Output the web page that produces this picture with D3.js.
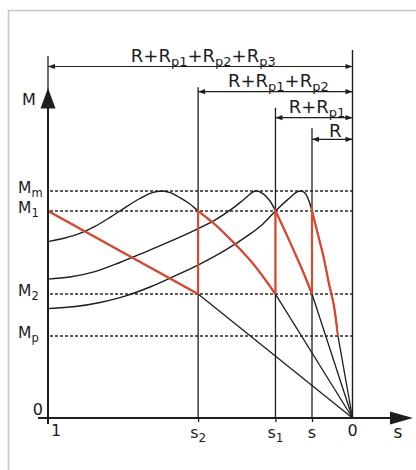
<!DOCTYPE html>
<html><head><meta charset="utf-8">
<script src="https://cdn.jsdelivr.net/npm/d3@7"></script>
<style>
body{margin:0;background:#fff}
svg{display:block}
text{font-family:"DejaVu Sans",Verdana,sans-serif;fill:#1c1c1c}
</style>
</head><body>
<svg id="chart" width="416" height="470"></svg>
<script>
// ---- data ----
const slipTicks = [1, 0.507, 0.253, 0.133, 0];
const slipLabels = ["1", "s_{2}", "s_{1}", "s", "0"];
const torqueLevels = [100, 91.2, 54.6, 36.1];
const torqueLabels = ["M_{m}", "M_{1}", "M_{2}", "M_{p}"];
const resistLabels = ["R+R_{p1}+R_{p2}+R_{p3}", "R+R_{p1}+R_{p2}", "R+R_{p1}", "R"];
const resistFrom = [1, 0.507, 0.253, 0.133];

// characteristic M(s) for each resistance (s, M in % of Mm)
const curveA = [[1, 91.2], [0.507, 54.6]];
const curveB = [[1, 77.7], [0.944, 79.3], [0.895, 81.3], [0.846, 84.4], [0.796, 88.4], [0.747, 92.7],
  [0.698, 96.7], [0.658, 99.3], [0.626, 100], [0.599, 99.3], [0.567, 97.1], [0.534, 94.3],
  [0.507, 91.2], [0.458, 86.0], [0.393, 77.6], [0.325, 67.7], [0.253, 54.6]];
const curveC = [[1, 61.2], [0.928, 62.1], [0.846, 64.5], [0.764, 68.5], [0.681, 73.1], [0.599, 77.8],
  [0.517, 82.8], [0.452, 87.2], [0.396, 92.1], [0.353, 96.7], [0.320, 100], [0.297, 99.1],
  [0.271, 95.6], [0.253, 91.2], [0.225, 83.3], [0.195, 74.4], [0.164, 65.0], [0.133, 54.6]];
const curveD = [[1, 48.2], [0.911, 49.1], [0.829, 50.9], [0.747, 53.7], [0.665, 57.7], [0.583, 62.6],
  [0.501, 67.8], [0.419, 73.8], [0.337, 81.0], [0.294, 85.5], [0.253, 91.2], [0.212, 96.3],
  [0.182, 99.6], [0.169, 100], [0.156, 99.1], [0.143, 95.6], [0.133, 91.2], [0.113, 80.6],
  [0.095, 70.9], [0.077, 59.0], [0.062, 50.2], [0.0476, 36.1]];
// starting path: slip range followed on each curve, and switching slips
const redRanges = [[1, 0.507], [0.507, 0.253], [0.253, 0.133], [0.133, 0.0476]];
const jumpSlips = [0.507, 0.253, 0.133];

// ---- layout ----
const dimRows = [66.5, 91.7, 117.7, 139.3];
const dimOvershoot = [10.5, 4.5, 10, 11];
const RED = "#e2452b", INK = "#1e1e1e";

const svg = d3.select("#chart");
const x = d3.scaleLinear().domain([1, 0]).range([48, 352.5]);
const y = d3.scaleLinear().domain([0, 100]).range([418, 191]);

function rich(t, str, subSize, subDy) {
  const parts = str.split(/_\{([^}]*)\}/);
  parts.forEach((p, i) => {
    if (!p) return;
    const ts = t.append("tspan").text(p);
    if (i % 2 === 1) ts.attr("font-size", subSize).attr("dy", subDy);
    else if (i > 0) ts.attr("dy", -subDy);
  });
}

// frame
svg.append("path").attr("d", "M8.5,470V10.5H416").attr("fill", "none")
  .attr("stroke", "#c8c8c8").attr("stroke-width", 1.6);

// dashed torque levels
svg.append("g").selectAll("line").data(torqueLevels).join("line")
  .attr("x1", x(1) + 2).attr("x2", x(0)).attr("y1", d => y(d)).attr("y2", d => y(d))
  .attr("stroke", "#2a2a2a").attr("stroke-width", 1.4).attr("stroke-dasharray", "3,2");

// vertical extension lines
svg.append("g").selectAll("line").data(resistFrom).join("line")
  .attr("x1", d => x(d)).attr("x2", d => x(d))
  .attr("y1", (d, i) => dimRows[i] - dimOvershoot[i])
  .attr("y2", (d, i) => i === 0 ? 100 : y(0))
  .attr("stroke", INK).attr("stroke-width", 1.3);
svg.append("line").attr("x1", x(0)).attr("x2", x(0)).attr("y1", 50).attr("y2", y(0))
  .attr("stroke", INK).attr("stroke-width", 1.4);

// dimension lines
const dims = svg.append("g");
resistFrom.forEach((s0, i) => {
  const x0 = x(s0), x1 = x(0), yy = dimRows[i];
  dims.append("line").attr("x1", x0).attr("x2", x1).attr("y1", yy).attr("y2", yy)
    .attr("stroke", INK).attr("stroke-width", 1.2);
  dims.append("path").attr("d", `M${x0},${yy}L${x0 + 7},${yy - 2.6}L${x0 + 7},${yy + 2.6}Z`).attr("fill", INK);
  dims.append("path").attr("d", `M${x1},${yy}L${x1 - 7},${yy - 2.6}L${x1 - 7},${yy + 2.6}Z`).attr("fill", INK);
  const t = dims.append("text").attr("x", (x0 + x1) / 2 + 3)
    .attr("y", i === 3 ? yy - 2.5 : yy - 4.5)
    .attr("text-anchor", "middle").attr("font-size", 18);
  rich(t, resistLabels[i], 13, 3.5);
});

// characteristics (black)
const line = d3.line().x(d => x(d[0])).y(d => y(d[1])).curve(d3.curveCatmullRom.alpha(0.5));
const straight = d3.line().x(d => x(d[0])).y(d => y(d[1]));
const curves = [curveA, curveB, curveC, curveD];
svg.append("g").selectAll("path").data(curves).join("path")
  .attr("d", line).attr("fill", "none").attr("stroke", INK).attr("stroke-width", 1.4);
// linear tails to the synchronous point
svg.append("g").selectAll("path").data(curves.map(c => [c[c.length - 1], [0, 0]])).join("path")
  .attr("d", straight).attr("fill", "none").attr("stroke", INK).attr("stroke-width", 1.3);

// starting trajectory (red), clipped from each full characteristic
const defs = svg.append("defs");
const redG = svg.append("g");
curves.forEach((c, i) => {
  const [a, b] = redRanges[i];
  defs.append("clipPath").attr("id", "rc" + i).append("rect")
    .attr("x", x(a) - 1).attr("width", x(b) - x(a) + 1.2).attr("y", 0).attr("height", 470);
  redG.append("path").attr("d", line(c)).attr("fill", "none")
    .attr("clip-path", `url(#rc${i})`)
    .attr("stroke", RED).attr("stroke-width", 2.2);
});
redG.selectAll("line").data(jumpSlips).join("line")
  .attr("x1", d => x(d)).attr("x2", d => x(d))
  .attr("y1", y(torqueLevels[2])).attr("y2", y(torqueLevels[1]))
  .attr("stroke", RED).attr("stroke-width", 2.1);

// x axis (ticks + labels)
const xAxis = svg.append("g").attr("transform", `translate(0,${y(0)})`)
  .call(d3.axisBottom(x).tickValues(slipTicks.slice(1, 4)).tickSize(4).tickFormat(""));
xAxis.select(".domain").remove();
xAxis.selectAll(".tick line").attr("stroke", INK).attr("stroke-width", 1.3);
const xl = svg.append("g");
slipTicks.forEach((s, i) => {
  const isNum = i === 0 || i === 4;
  const t = xl.append("text")
    .attr("x", i === 0 ? x(s) + 3 : x(s))
    .attr("y", isNum ? 436 : 437.5)
    .attr("text-anchor", i === 0 ? "start" : "middle").attr("font-size", 16);
  rich(t, slipLabels[i], 12, 4);
});
// axis lines with arrows
svg.append("line").attr("x1", 38).attr("x2", 392).attr("y1", y(0)).attr("y2", y(0))
  .attr("stroke", INK).attr("stroke-width", 2);
svg.append("path").attr("d", `M413,${y(0)}L390,${y(0) - 6.5}L390,${y(0) + 6.5}Z`).attr("fill", INK);
svg.append("text").attr("x", 398).attr("y", 438).attr("text-anchor", "middle")
  .attr("font-size", 17).text("s");

svg.append("line").attr("x1", x(1)).attr("x2", x(1)).attr("y1", 424).attr("y2", 106)
  .attr("stroke", INK).attr("stroke-width", 2);
svg.append("path").attr("d", `M${x(1)},88L${x(1) - 7.5},108.5L${x(1) + 7.5},108.5Z`).attr("fill", INK);
svg.append("text").attr("x", 22).attr("y", 104.5).attr("font-size", 16).text("M");

// y labels
const yAxis = svg.append("g").attr("transform", `translate(${x(1)},0)`)
  .call(d3.axisLeft(y).tickValues([0].concat(torqueLevels)).tickSize(0).tickFormat(""));
yAxis.select(".domain").remove();
const yl = svg.append("g");
torqueLevels.forEach((m, i) => {
  const t = yl.append("text").attr("x", 18).attr("y", y(m) + 2).attr("font-size", 15.5);
  rich(t, torqueLabels[i], 11.5, 4);
});
yl.append("text").attr("x", 43).attr("y", 415).attr("text-anchor", "end").attr("font-size", 16).text("0");
</script>
</body></html>
